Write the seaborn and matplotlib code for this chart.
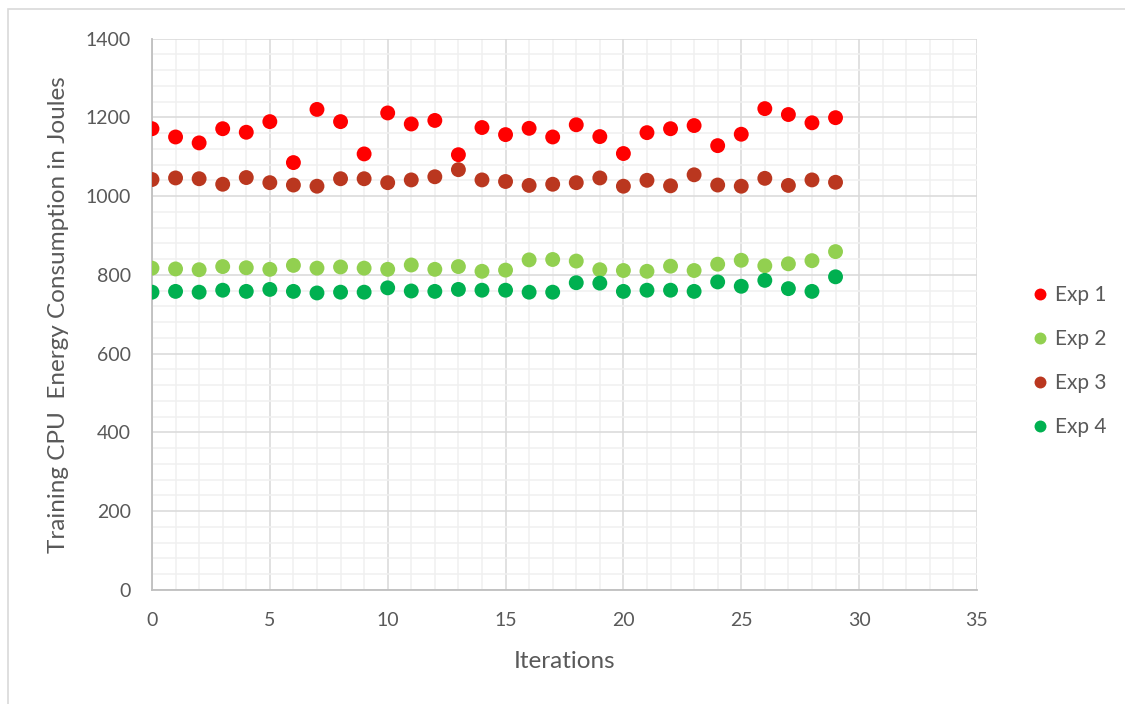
import matplotlib
matplotlib.use("Agg")
import matplotlib.pyplot as plt
from matplotlib.ticker import MultipleLocator
from matplotlib.patches import Rectangle
import numpy as np
import pandas as pd
import seaborn as sns

iterations = list(range(30))
exp1 = [1171, 1150, 1135, 1171, 1162, 1189, 1085, 1220, 1189, 1107,
        1211, 1183, 1192, 1105, 1174, 1156, 1172, 1150, 1181, 1151,
        1108, 1161, 1171, 1179, 1128, 1157, 1222, 1207, 1186, 1199]
exp2 = [817, 815, 813, 821, 818, 814, 824, 817, 820, 817,
        814, 825, 814, 821, 809, 812, 838, 839, 835, 813,
        811, 809, 822, 811, 827, 837, 823, 828, 836, 859]
exp3 = [1042, 1046, 1044, 1030, 1047, 1034, 1028, 1025, 1044, 1044,
        1034, 1041, 1049, 1067, 1041, 1037, 1027, 1030, 1034, 1046,
        1025, 1040, 1026, 1054, 1028, 1025, 1045, 1027, 1041, 1035]
exp4 = [756, 758, 756, 761, 758, 763, 758, 754, 756, 756,
        767, 759, 758, 763, 761, 761, 756, 756, 780, 779,
        758, 761, 761, 758, 782, 771, 786, 765, 758, 795]
series_names = ["Exp 1", "Exp 2", "Exp 3", "Exp 4"]

frames = []
for name, vals in zip(series_names, [exp1, exp2, exp3, exp4]):
    frames.append(pd.DataFrame({"Iteration": iterations, "Energy": vals, "Series": name}))
df = pd.concat(frames, ignore_index=True)

palette = {"Exp 1": "#FF0000", "Exp 2": "#92D050", "Exp 3": "#BA371F", "Exp 4": "#00B050"}

sns.set_theme(style="white")
plt.rcParams["font.family"] = ["Lato", "DejaVu Sans"]
text_color = "#595959"

fig = plt.figure(figsize=(11.25, 7.04), dpi=100)
ax = fig.add_axes([0.1351, 0.162, 0.8684 - 0.1351, 0.9453 - 0.162])

# chart-area frame (left and top edges visible)
fig.patches.append(Rectangle((8 / 1125, -0.2), 1.2, 1.2 - 9 / 704, transform=fig.transFigure,
                             fill=False, edgecolor="#D9D9D9", linewidth=1.2, zorder=0))

sns.scatterplot(data=df, x="Iteration", y="Energy", hue="Series", palette=palette,
                s=115, edgecolor="none", linewidth=0, ax=ax, zorder=3, legend=True)

ax.set_xlim(0, 35)
ax.set_ylim(0, 1400)
ax.xaxis.set_major_locator(MultipleLocator(5))
ax.xaxis.set_minor_locator(MultipleLocator(1))
ax.yaxis.set_major_locator(MultipleLocator(200))
ax.yaxis.set_minor_locator(MultipleLocator(40))
ax.grid(which="major", color="#D9D9D9", linewidth=1.1, zorder=0)
ax.grid(which="minor", color="#F0F0F0", linewidth=1.1, zorder=0)
ax.set_axisbelow(True)

for side in ["top", "right"]:
    ax.spines[side].set_visible(False)
for side in ["left", "bottom"]:
    ax.spines[side].set_color("#BFBFBF")
    ax.spines[side].set_linewidth(1.3)

ax.tick_params(which="major", direction="out", length=7, width=1.3, color="#BFBFBF",
               labelcolor=text_color, labelsize=14)
ax.tick_params(which="minor", length=0)
ax.tick_params(axis="y", pad=8)
ax.tick_params(axis="x", pad=9)

ax.set_xlabel("Iterations", fontsize=17.5, color=text_color, labelpad=16)
ax.set_ylabel("Training CPU  Energy Consumption in Joules", fontsize=17.5, color=text_color, labelpad=12)

handles, labels = ax.get_legend_handles_labels()
leg = ax.legend(handles, labels, loc="center left", bbox_to_anchor=(1.054, 0.415),
                frameon=False, fontsize=15, labelspacing=1.15, handletextpad=0.2,
                handlelength=1.0, markerscale=0.8, borderaxespad=0)
for t in leg.get_texts():
    t.set_color(text_color)

fig.savefig("out.png", dpi=100)
